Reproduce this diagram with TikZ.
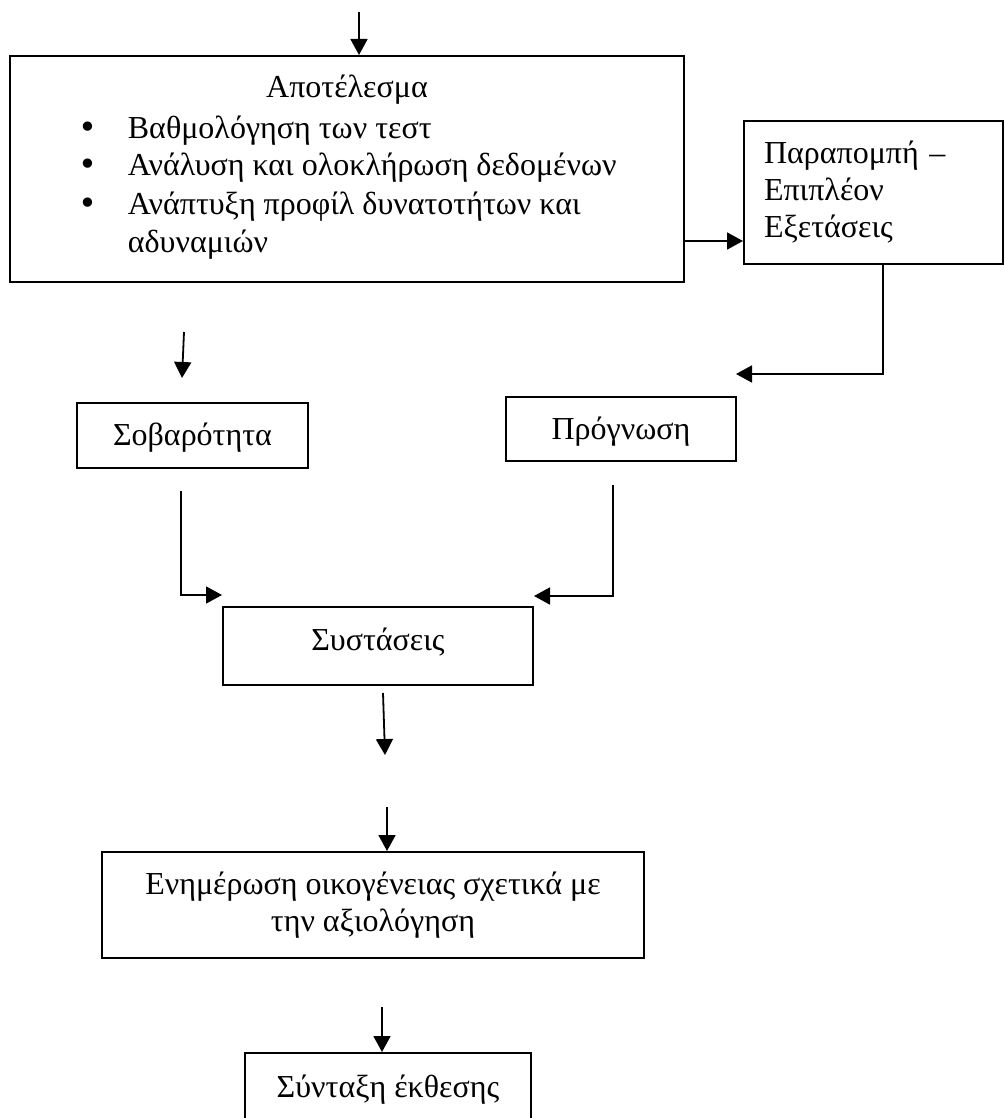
\documentclass[tikz,border=0pt]{standalone}
\usepackage{fontspec}
\setmainfont{Liberation Serif}
\newfontfamily\dotfont{DejaVu Sans}
\usetikzlibrary{arrows.meta}

\newcommand{\listdot}{\makebox[24.5pt][l]{\dotfont •}}

\tikzset{box/.style={draw, line width=1pt, inner sep=0pt, font=\fontsize{16}{18.5}\selectfont},
	oneline/.style={text height=12.5pt, text depth=2.5pt},
	txt/.style={inner sep=0pt, font=\fontsize{16}{18.5}\selectfont}}

\begin{document}
\begin{tikzpicture}[>={Triangle[length=8pt,width=8.5pt]}, x=0.5pt, y=-0.5pt, line width=0.9pt]

\useasboundingbox (0,0) rectangle (1005,1118);

			% the big box with the list
			\node[box, minimum width=337pt, minimum height=113pt] (result) at (347,169) {};
			\node[txt, anchor=base] (restitle) at (347,98) {Αποτέλεσμα};
			\node[txt, anchor=base west] (item1) at (78,139) {\listdot Βαθμολόγηση των τεστ};
			\node[txt, anchor=base west] (item2) at (78,176) {\listdot Ανάλυση και ολοκλήρωση δεδομένων};
			\node[txt, anchor=base west] (item3) at (78,214) {\listdot Ανάπτυξη προφίλ δυνατοτήτων και};
			\node[txt, anchor=base west] (item3b) at (127,252) {αδυναμιών};

			\node[box, minimum width=129.5pt, minimum height=71.5pt, text width=109.5pt, inner xsep=10pt, align=left] (refer) at (873.5,192.5) {Παραπομπή –\\Επιπλέον\\Εξετάσεις};

			\node[box, oneline, minimum width=115.5pt, minimum height=32.5pt] (sob) at (192.5,435.5) {Σοβαρότητα};
			\node[box, oneline, minimum width=115pt, minimum height=32pt] (prog) at (621,429) {Πρόγνωση};
			\node[box, oneline, text depth=8.5pt, minimum width=155pt, minimum height=39pt] (rec) at (378,646) {Συστάσεις};
			\node[box, minimum width=271pt, minimum height=53pt, align=center] (inform) at (373,905) {Ενημέρωση οικογένειας σχετικά με\\την αξιολόγηση};
			\node[box, oneline, text depth=6.5pt, minimum width=143pt, minimum height=38.5pt] (report) at (388,1091.5) {Σύνταξη έκθεσης};

			% arrows
			\coordinate (topin) at (359,12);
			\draw[->] (topin) -- (topin |- result.north);

			\coordinate (resout) at (184,332);
			\coordinate (sobin) at (182,378);
			\draw[->] (resout) -- (sobin);

			\coordinate (refrow) at (0,241);
			\draw[->] (result.east |- refrow) -- (refer.west |- refrow);

			\coordinate (refturn) at (883,374);
			\coordinate (progin) at (736,374);
			\draw[->] (refer.south -| refturn) -- (refturn) -- (progin);

			\coordinate (sobout) at (181,491);
			\coordinate (sobturn) at (181,595);
			\draw[->] (sobout) -- (sobturn) -- (rec.west |- sobturn);

			\coordinate (progout) at (613,485);
			\coordinate (progturn) at (613,596);
			\draw[->] (progout) -- (progturn) -- (rec.east |- progturn);

			\coordinate (recout) at (383,693);
			\coordinate (recend) at (385,755);
			\draw[->] (recout) -- (recend);

			\coordinate (infoin) at (387,807);
			\draw[->] (infoin) -- (infoin |- inform.north);

			\coordinate (repin) at (382,1007);
			\draw[->] (repin) -- (repin |- report.north);

\end{tikzpicture}
\end{document}
